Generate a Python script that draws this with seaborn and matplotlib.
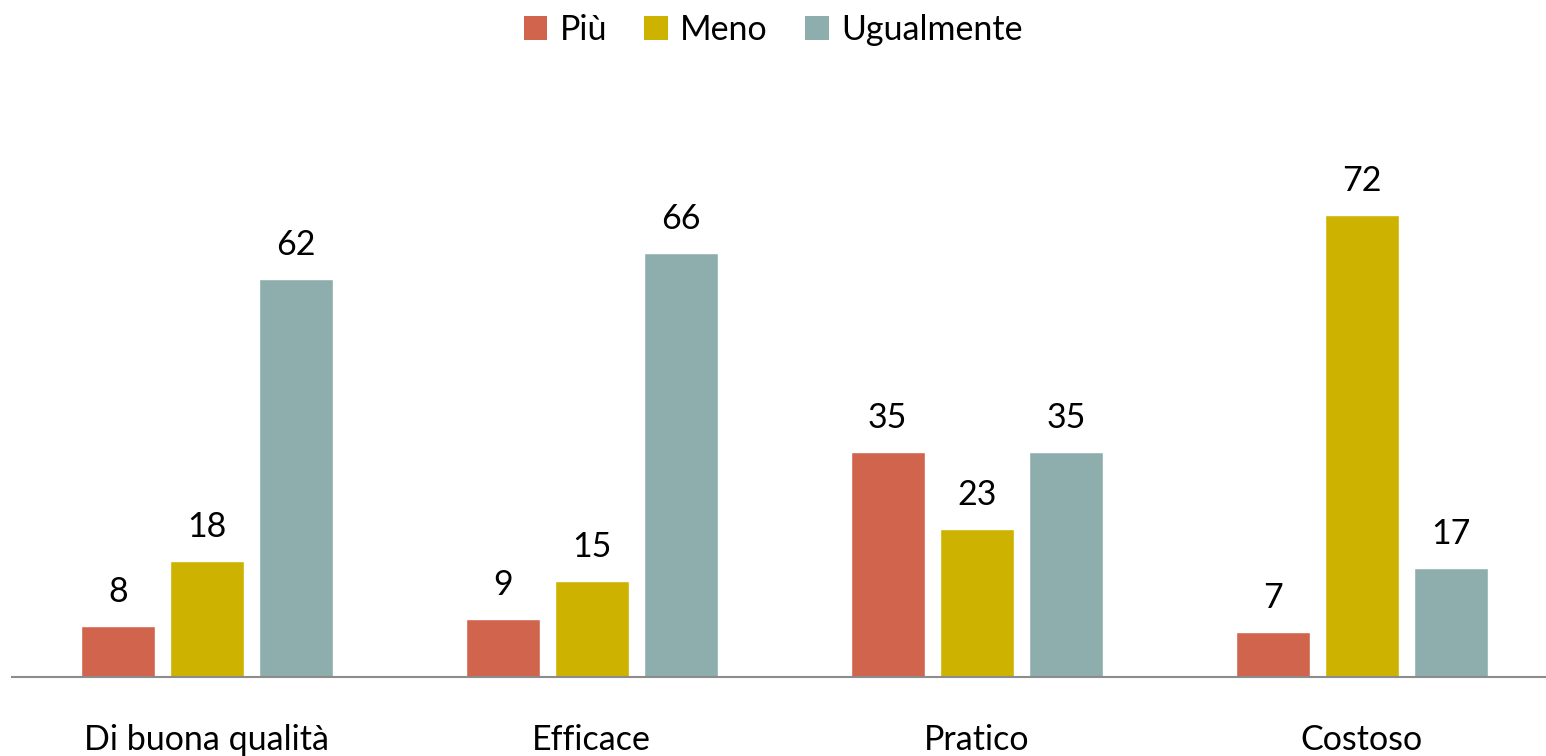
import matplotlib
matplotlib.use("Agg")
import matplotlib.pyplot as plt
import seaborn as sns
import pandas as pd

categories = ["Di buona qualità", "Efficace", "Pratico", "Costoso"]
series = ["Più", "Meno", "Ugualmente"]
piu = [8, 9, 35, 7]
meno = [18, 15, 23, 72]
ugualmente = [62, 66, 35, 17]
colors = ["#D0644C", "#CDB300", "#8EADAD"]

rows = []
for name, vals in zip(series, [piu, meno, ugualmente]):
    for c, v in zip(categories, vals):
        rows.append({"cat": c, "serie": name, "val": v})
df = pd.DataFrame(rows)

sns.set_theme(style="white")
plt.rcParams['font.family'] = ['Lato', 'DejaVu Sans']
plt.rcParams['text.color'] = 'black'

fig = plt.figure(figsize=(15.46, 7.56), dpi=100)
ax = fig.add_axes([12/1546, 79/756, 1540/1546, 578/756])

sns.barplot(data=df, x="cat", y="val", hue="serie", hue_order=series,
            order=categories, palette=colors, width=0.694, gap=0.17,
            saturation=1, ax=ax, legend=False)

for cont in ax.containers:
    ax.bar_label(cont, fmt="%d", padding=13, fontsize=24.5, color="black")

ax.set_xlim(-0.506, 3.494)
ax.set_ylim(0, 90)
ax.set_xlabel("")
ax.set_ylabel("")
ax.set_yticks([])
ax.tick_params(axis="x", length=0, pad=34, labelsize=24.5, labelcolor="black")
for s in ["top", "right", "left"]:
    ax.spines[s].set_visible(False)
ax.spines["bottom"].set_color("#8C8C8C")
ax.spines["bottom"].set_linewidth(1.5)

from matplotlib.patches import Patch
handles = [Patch(facecolor=c, edgecolor="none", label=s) for c, s in zip(colors, series)]
fig.legend(handles=handles, loc="upper center", bbox_to_anchor=(0.5, 1.0), ncol=3,
           frameon=False, fontsize=24.5, handlelength=0.7, handleheight=0.7,
           handletextpad=0.35, columnspacing=1.1, borderaxespad=0.0,
           labelcolor="black")

fig.savefig("out.png", dpi=100)
